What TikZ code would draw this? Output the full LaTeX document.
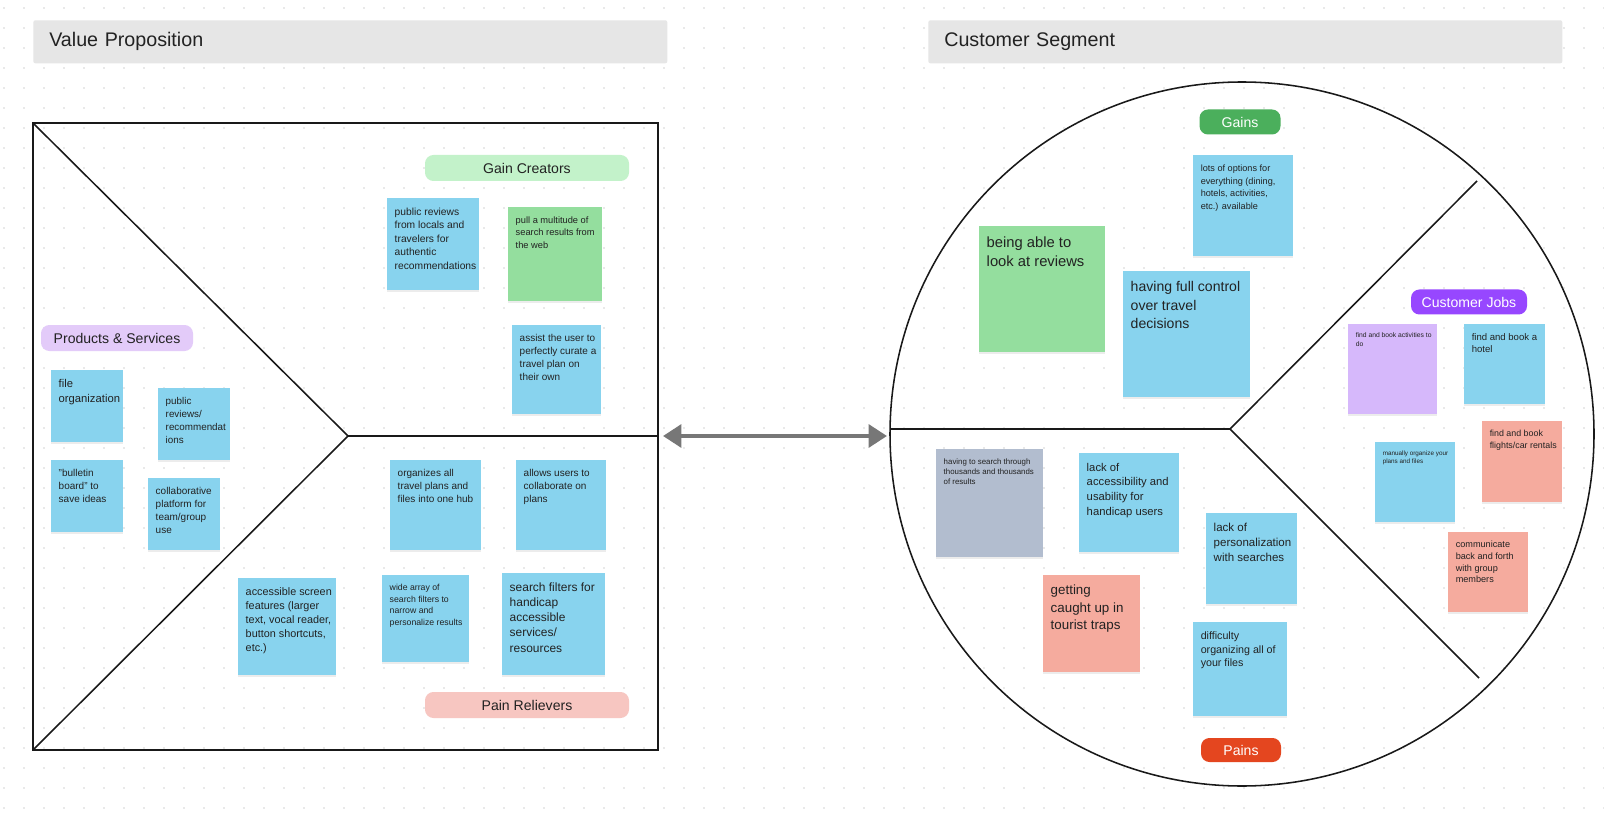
\documentclass[tikz,border=0pt]{standalone}
\usepackage{fontspec}
\setmainfont{Liberation Sans}
\usetikzlibrary{arrows.meta,shadows}

\definecolor{dotc}{HTML}{D4D4D4}
\definecolor{bannerc}{HTML}{E6E6E6}
\definecolor{inkc}{HTML}{222222}
\definecolor{bluen}{HTML}{88D3EE}
\definecolor{greenn}{HTML}{94DE9E}
\definecolor{salmonn}{HTML}{F5AB9E}
\definecolor{purplen}{HTML}{D6B8FB}
\definecolor{grayn}{HTML}{B2BDCF}
\definecolor{gcpill}{HTML}{C3F2CA}
\definecolor{pspill}{HTML}{E3CBF9}
\definecolor{prpill}{HTML}{F7C6C1}
\definecolor{gnpill}{HTML}{4BAF5C}
\definecolor{cjpill}{HTML}{9747FF}
\definecolor{pnpill}{HTML}{E4461F}
\definecolor{arrowc}{HTML}{777777}

\newlength{\pxu}
\setlength{\pxu}{0.025cm}
\newcommand{\stickynote}[7]{%
  \node[sticky, fill=#5, anchor=north west] (#1) at (#2)
    {\parbox[t][\dimexpr#4\pxu-15\pxu\relax][t]{\dimexpr#3\pxu-15\pxu\relax}%
      {\fontsize#6\selectfont\begin{tabular}[t]{@{}l@{}}#7\end{tabular}}};}

\begin{document}
\begin{tikzpicture}[x=0.025cm, y=-0.025cm,
  sticky/.style={inner sep=5.3pt, text=inkc,
    drop shadow={shadow xshift=0pt, shadow yshift=-1.2pt, opacity=0.15}},
  pill/.style={rounded corners=6pt, inner sep=0pt, font=\fontsize{10}{12}\selectfont},
  banner/.style={fill=bannerc, rounded corners=1.5pt, anchor=north west, align=left,
    inner xsep=11.4pt, font=\fontsize{14}{16}\selectfont, text=inkc},
  outline/.style={line width=1.1pt, black!90},
  dblarrow/.style={arrowc, line width=3pt,
    {Triangle[length=13pt,width=16pt]}-{Triangle[length=13pt,width=16pt]}}]
  \useasboundingbox (0,0) rectangle (1604,813);
  \fill[white] (0,0) rectangle (1604,813);
  \foreach \i in {0,...,80}
    \foreach \j in {0,...,40}
      \fill[dotc] (4+20*\i, 8+20*\j) circle[radius=0.9];

  \node[banner, minimum width=625\pxu, minimum height=43\pxu, text width=602\pxu] (vp) at (33,20) {Value Proposition};
  \node[banner, minimum width=625\pxu, minimum height=43\pxu, text width=602\pxu] (cs) at (928,20) {Customer Segment};

  \coordinate (B1) at (33,123);
  \coordinate (B2) at (658,123);
  \coordinate (B3) at (658,750);
  \coordinate (B4) at (33,750);
  \coordinate (V) at (348,436);
  \coordinate (VE) at (658,436);
  \draw[outline] (B1) -- (B2) -- (B3) -- (B4) -- cycle;
  \draw[outline] (B1) -- (V) -- (B4);
  \draw[outline] (V) -- (VE);

  \coordinate (C) at (1242,434);
  \coordinate (J) at (1230,429);
  \coordinate (CW) at (890,429);
  \coordinate (NE) at (1477,181);
  \coordinate (SE) at (1479,678);
  \draw[outline] (C) circle[radius=352];
  \draw[outline] (CW) -- (J) -- (NE);
  \draw[outline] (J) -- (SE);

  \coordinate (al) at (663,436);
  \coordinate (ar) at (887,436);
  \draw[dblarrow] (al) -- (ar);

  \node[pill, fill=gcpill, text=inkc, minimum width=204\pxu, minimum height=26\pxu] (gc) at (527,168) {Gain Creators};
  \node[pill, fill=pspill, text=inkc, minimum width=152\pxu, minimum height=26\pxu] (ps) at (117,338) {Products \& Services};
  \node[pill, fill=prpill, text=inkc, minimum width=204\pxu, minimum height=26\pxu] (pr) at (527,705) {Pain Relievers};
  \node[pill, fill=gnpill, text=white, minimum width=81\pxu, minimum height=25\pxu] (gn) at (1240,122) {Gains};
  \node[pill, fill=cjpill, text=white, minimum width=116\pxu, minimum height=25\pxu] (cj) at (1469,302) {Customer Jobs};
  \node[pill, fill=pnpill, text=white, minimum width=80\pxu, minimum height=24\pxu] (pn) at (1241,750) {Pains};

  \stickynote{gc1}{387,198}{92}{92}{bluen}{{7.3}{9.6}}{public reviews\\from locals and\\travelers for\\authentic\\recommendations}
  \stickynote{gc2}{508,207}{94}{94}{greenn}{{6.6}{8.8}}{pull a multitude of\\search results from\\the web}
  \stickynote{gc3}{512,325}{89}{89}{bluen}{{7.1}{9.2}}{assist the user to\\perfectly curate a\\travel plan on\\their own}

  \stickynote{ps1}{51,370}{72}{72}{bluen}{{8}{10.2}}{file\\organization}
  \stickynote{ps2}{158,388}{72}{72}{bluen}{{7}{9.2}}{public\\reviews/\\recommendat\\ions}
  \stickynote{ps3}{51,460}{72}{72}{bluen}{{7.1}{9.2}}{"bulletin\\board" to\\save ideas}
  \stickynote{ps4}{148,478}{72}{72}{bluen}{{7.1}{9.2}}{collaborative\\platform for\\team/group\\use}

  \stickynote{pr1}{390,460}{91}{90}{bluen}{{7.1}{9.2}}{organizes all\\travel plans and\\files into one hub}
  \stickynote{pr2}{516,460}{90}{90}{bluen}{{7.1}{9.2}}{allows users to\\collaborate on\\plans}
  \stickynote{pr3}{238,578}{98}{97}{bluen}{{7.7}{10}}{accessible screen\\features (larger\\text, vocal reader,\\button shortcuts,\\etc.)}
  \stickynote{pr4}{382,575}{87}{87}{bluen}{{6.2}{8.2}}{wide array of\\search filters to\\narrow and\\personalize results}
  \stickynote{pr5}{502,573}{103}{102}{bluen}{{8.5}{10.8}}{search filters for\\handicap\\accessible\\services/\\resources}

  \stickynote{gn1}{1193,155}{100}{101}{bluen}{{6.5}{9}}{lots of options for\\everything (dining,\\hotels, activities,\\etc.) available}
  \stickynote{gn2}{979,226}{126}{126}{greenn}{{10.5}{13.8}}{being able to\\look at reviews}
  \stickynote{gn3}{1123,271}{127}{126}{bluen}{{10}{13.2}}{having full control\\over travel\\decisions}

  \stickynote{cj1}{1348,324}{89}{90}{purplen}{{4.8}{6.2}}{find and book activities to\\do}
  \stickynote{cj2}{1464,324}{81}{80}{bluen}{{6.8}{8.8}}{find and book a\\hotel}
  \stickynote{cj3}{1482,421}{80}{81}{salmonn}{{6.3}{8.2}}{find and book\\flights/car rentals}
  \stickynote{cj4}{1375,442}{80}{80}{bluen}{{4.5}{5.8}}{manually organize your\\plans and files}
  \stickynote{cj5}{1448,532}{80}{80}{salmonn}{{6.5}{8.3}}{communicate\\back and forth\\with group\\members}

  \stickynote{pn1}{936,449}{107}{108}{grayn}{{5.6}{7.4}}{having to search through\\thousands and thousands\\of results}
  \stickynote{pn2}{1079,453}{100}{99}{bluen}{{8}{10.5}}{lack of\\accessibility and\\usability for\\handicap users}
  \stickynote{pn3}{1206,513}{91}{91}{bluen}{{8.2}{10.8}}{lack of\\personalization\\with searches}
  \stickynote{pn4}{1043,575}{97}{97}{salmonn}{{9.5}{12.4}}{getting\\caught up in\\tourist traps}
  \stickynote{pn5}{1193,622}{94}{94}{bluen}{{7.6}{9.8}}{difficulty\\organizing all of\\your files}
\end{tikzpicture}
\end{document}
